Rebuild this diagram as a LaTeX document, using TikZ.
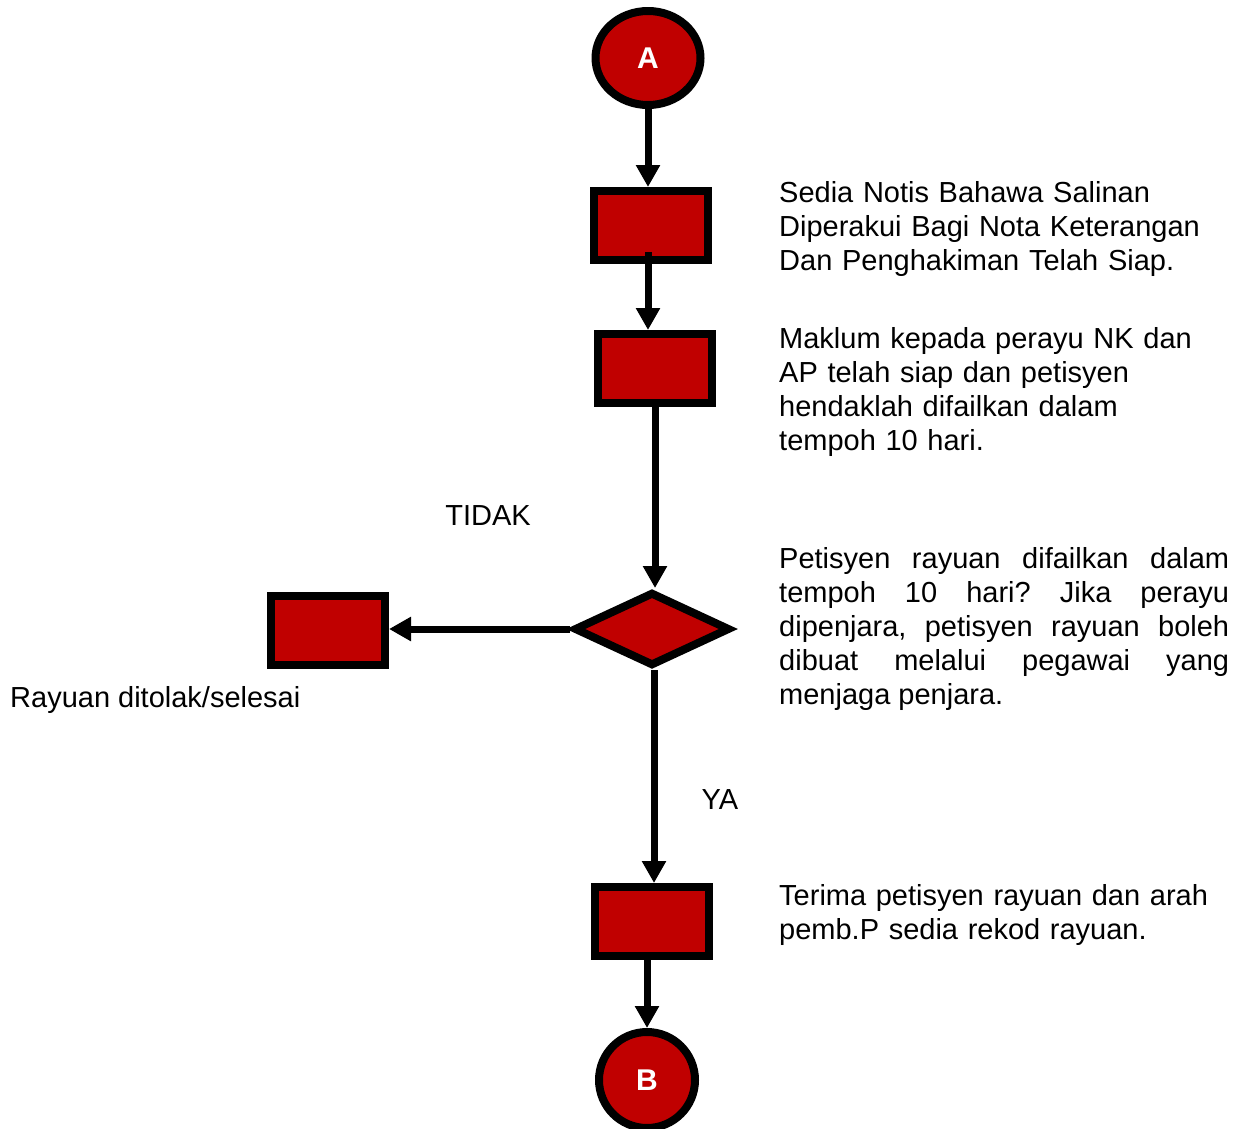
\documentclass[tikz,border=0pt]{standalone}
\usepackage{fontspec}
\setmainfont{Liberation Sans}
\frenchspacing
\usetikzlibrary{arrows.meta,shapes.geometric}
\definecolor{boxred}{HTML}{C00000}
\tikzset{
  shp/.style={draw=black, line width=8pt, fill=boxred, inner sep=0pt},
  stepbox/.style={shp, rectangle, minimum width=114pt, minimum height=69pt},
  endpt/.style={shp, ellipse, text=white, font=\fontsize{30}{34}\selectfont\bfseries},
  decide/.style={shp, diamond, minimum width=156pt, minimum height=74pt},
  arr/.style={line width=7pt, -{Triangle[width=23pt,length=22pt]}},
  txt/.style={anchor=base west, inner sep=0pt, font=\fontsize{29}{34}\selectfont},
  para/.style={txt, text width=450pt, align=left},
  lbl/.style={anchor=base, inner sep=0pt, font=\fontsize{29}{34}\selectfont}
}
\begin{document}
\begin{tikzpicture}[x=1pt,y=-1pt]
\useasboundingbox (0,0) rectangle (1240,1128);
\node[endpt, minimum width=105pt, minimum height=94pt] (A) at (648,58) {A};
\node[stepbox] (b1) at (651,225.5) {};
\node[stepbox] (b2) at (655,368.5) {};
\node[decide] (d) at (652,629) {};
\node[stepbox] (lb) at (328,630.5) {};
\node[stepbox] (b4) at (652,921.5) {};
\node[endpt, minimum width=96pt, minimum height=96pt] (B) at (647,1080) {B};

\draw[arr] (A.south) -- (A.south |- b1.north);
\draw[arr] ([yshift=12pt]b1.south -| A.south) -- (A.south |- b2.north);
\draw[arr] (b2.south) -- (b2.south |- d.north);
\draw[arr] (d.west) -- (lb.east |- d.west);
\draw[arr] ([xshift=2pt]d.south) -- ([xshift=2pt]d.south |- b4.north);
\draw[arr] (B.north |- b4.south) -- (B.north);

\node[para] (t1) at (779,202) {Sedia Notis Bahawa Salinan\\Diperakui Bagi Nota Keterangan\\Dan Penghakiman Telah Siap.};
\node[para] (t2) at (779,348) {Maklum kepada perayu NK dan\\AP telah siap dan petisyen\\hendaklah difailkan dalam\\tempoh 10 hari.};
\node[lbl] (tidak) at (488,525) {TIDAK};
\node[txt, text width=450pt, align=justify] (t3) at (779,568) {Petisyen rayuan difailkan dalam\linebreak tempoh 10 hari? Jika perayu\linebreak dipenjara, petisyen rayuan boleh\linebreak dibuat melalui pegawai yang\linebreak menjaga penjara.};
\node[txt] (t4) at (10,707) {Rayuan ditolak/selesai};
\node[lbl] (ya) at (720,809) {YA};
\node[para] (t5) at (779,905) {Terima petisyen rayuan dan arah\\pemb.P sedia rekod rayuan.};
\end{tikzpicture}
\end{document}
